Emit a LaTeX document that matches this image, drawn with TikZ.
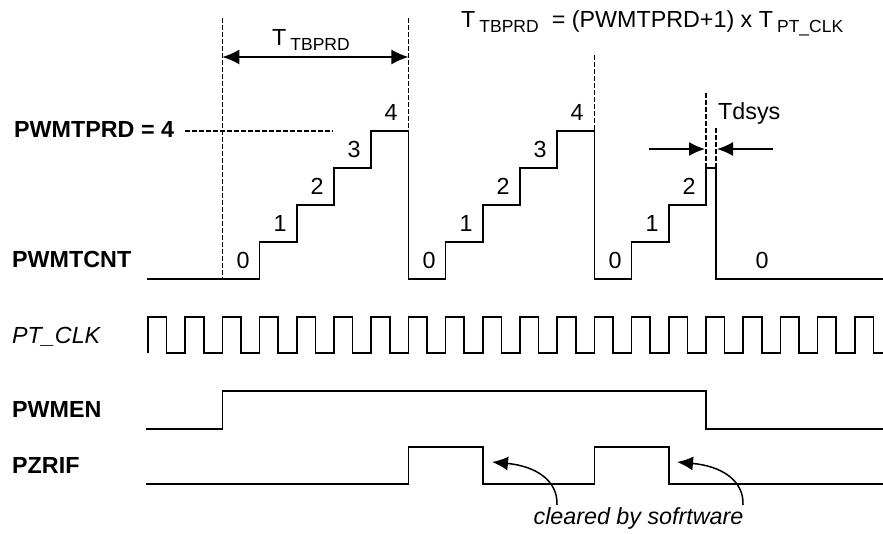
\documentclass[tikz,border=0pt]{standalone}
\usepackage{fontspec}
\setmainfont{Liberation Sans}
\usetikzlibrary{arrows.meta}
\newcommand{\subtxt}[1]{\raisebox{-5pt}{\fontsize{17.5}{17.5}\selectfont #1}}
\begin{document}
\begin{tikzpicture}[x=1pt,y=-1pt,
  wave/.style={line width=1.6pt,line join=miter},
  guide/.style={line width=1.3pt,dash pattern=on 4.5pt off 2.5pt},
  dimarrow/.style={line width=1.5pt,{Latex[length=17pt,width=15pt]}-{Latex[length=17pt,width=15pt]}},
  onearrow/.style={line width=1.5pt,-{Latex[length=16pt,width=14pt]}},
  lbl/.style={inner sep=0pt,anchor=base west,font=\fontsize{23.3}{23.3}\selectfont\bfseries},
  txt/.style={inner sep=0pt,font=\fontsize{23.3}{23.3}\selectfont},
  digit/.style={inner sep=0pt,anchor=base,font=\fontsize{23.3}{23.3}\selectfont}]
\useasboundingbox (0,0) rectangle (883,533);
\def\pp{37.2}
% ---- signal names
\node[lbl] (nprd) at (14,137) {PWMTPRD = 4};
\node[lbl] (ncnt) at (12,267) {PWMTCNT};
\node[lbl,font=\fontsize{23.3}{23.3}\selectfont\itshape] (nclk) at (12,343) {PT\_CLK};
\node[lbl] (nen) at (12,417) {PWMEN};
\node[lbl] (nzr) at (12,473) {PZRIF};
% ---- formula
\node[txt,anchor=base west] (formula) at (461,27)
  {T\kern4pt\subtxt{TBPRD}\kern13pt= (PWMTPRD+1) x T\kern4pt\subtxt{PT\_CLK}};
% ---- guide lines
\coordinate (g1t) at (222.4,18);  \coordinate (g1b) at (222.4,279);
\coordinate (g2t) at (408.4,18);  \coordinate (g2b) at (408.4,131);
\coordinate (g3t) at (594.4,55);  \coordinate (g3b) at (594.4,131);
\coordinate (g4t) at (706,93);    \coordinate (g4b) at (706,168);
\coordinate (g5t) at (716,128);   \coordinate (g5b) at (716,168);
\coordinate (hp1) at (185,131);   \coordinate (hp2) at (333,131);
\draw[guide] (g1t) -- (g1b);
\draw[guide] (g2t) -- (g2b);
\draw[guide] (g3t) -- (g3b);
\draw[guide] (g4t) -- (g4b);
\draw[guide] (g5t) -- (g5b);
\draw[guide] (hp1) -- (hp2);
% ---- T_TBPRD dimension
\coordinate (da) at (222.4,57); \coordinate (db) at (408.4,57);
\draw[dimarrow] (da) -- (db);
\node[txt,anchor=base west] (tlbl) at (272,45) {T\kern4pt\subtxt{TBPRD}};
% ---- Tdsys
\coordinate (ta1) at (649,149); \coordinate (ta2) at (705,149);
\coordinate (tb1) at (773,149); \coordinate (tb2) at (717,149);
\draw[onearrow] (ta1) -- (ta2);
\draw[onearrow] (tb1) -- (tb2);
\node[txt,anchor=base west] (tdsys) at (718,119) {Tdsys};
% ---- PWMTCNT staircase
\draw[wave] (147,279) -- ({148+3*\pp},279) -- ({148+3*\pp},242) -- ({148+4*\pp},242)
  -- ({148+4*\pp},205) -- ({148+5*\pp},205) -- ({148+5*\pp},168) -- ({148+6*\pp},168)
  -- ({148+6*\pp},131) -- ({148+7*\pp},131) -- ({148+7*\pp},279)
  -- ({148+8*\pp},279) -- ({148+8*\pp},242) -- ({148+9*\pp},242)
  -- ({148+9*\pp},205) -- ({148+10*\pp},205) -- ({148+10*\pp},168) -- ({148+11*\pp},168)
  -- ({148+11*\pp},131) -- ({148+12*\pp},131) -- ({148+12*\pp},279)
  -- ({148+13*\pp},279) -- ({148+13*\pp},242) -- ({148+14*\pp},242)
  -- ({148+14*\pp},205) -- (706,205) -- (706,168) -- (716,168) -- (716,279) -- (883,279);
% step values
\node[digit] (c10) at (243,268) {0};
\node[digit] (c11) at (280,231) {1};
\node[digit] (c12) at (317,194) {2};
\node[digit] (c13) at (354,157) {3};
\node[digit] (c14) at (391,120) {4};
\node[digit] (c20) at (429,268) {0};
\node[digit] (c21) at (466,231) {1};
\node[digit] (c22) at (503,194) {2};
\node[digit] (c23) at (540,157) {3};
\node[digit] (c24) at (577,120) {4};
\node[digit] (c30) at (615,268) {0};
\node[digit] (c31) at (652,231) {1};
\node[digit] (c32) at (689,194) {2};
\node[digit] (c40) at (762,268) {0};
% ---- PT_CLK
\draw[wave] (148,353)
  \foreach \k in {0,...,18} { -- ({148+\k*\pp},317) -- ({148+\k*\pp+\pp/2},317)
     -- ({148+\k*\pp+\pp/2},353) -- ({148+(\k+1)*\pp},353) }
  -- ({148+19*\pp},317) -- ({148+19*\pp+\pp/2},317) -- ({148+19*\pp+\pp/2},353) -- (883,353);
% ---- PWMEN
\draw[wave] (146,429) -- ({148+2*\pp},429) -- ({148+2*\pp},391) -- (706,391) -- (706,429) -- (883,429);
% ---- PZRIF
\draw[wave] (146,484) -- ({148+7*\pp},484) -- ({148+7*\pp},447) -- ({148+9*\pp},447)
  -- ({148+9*\pp},484) -- ({148+12*\pp},484) -- ({148+12*\pp},447) -- ({148+14*\pp},447)
  -- ({148+14*\pp},484) -- (883,484);
% ---- cleared by software
\node[txt,anchor=base,font=\fontsize{23.3}{23.3}\selectfont\itshape] (clr) at (638.5,524) {cleared by sofrtware};
\coordinate (a1s) at (557,505); \coordinate (a1e) at (492,462);
\coordinate (a2s) at (743,505); \coordinate (a2e) at (677,462);
\draw[onearrow] (a1s) .. controls (558,480) and (535,466) .. (a1e);
\draw[onearrow] (a2s) .. controls (744,480) and (721,466) .. (a2e);
\end{tikzpicture}
\end{document}
